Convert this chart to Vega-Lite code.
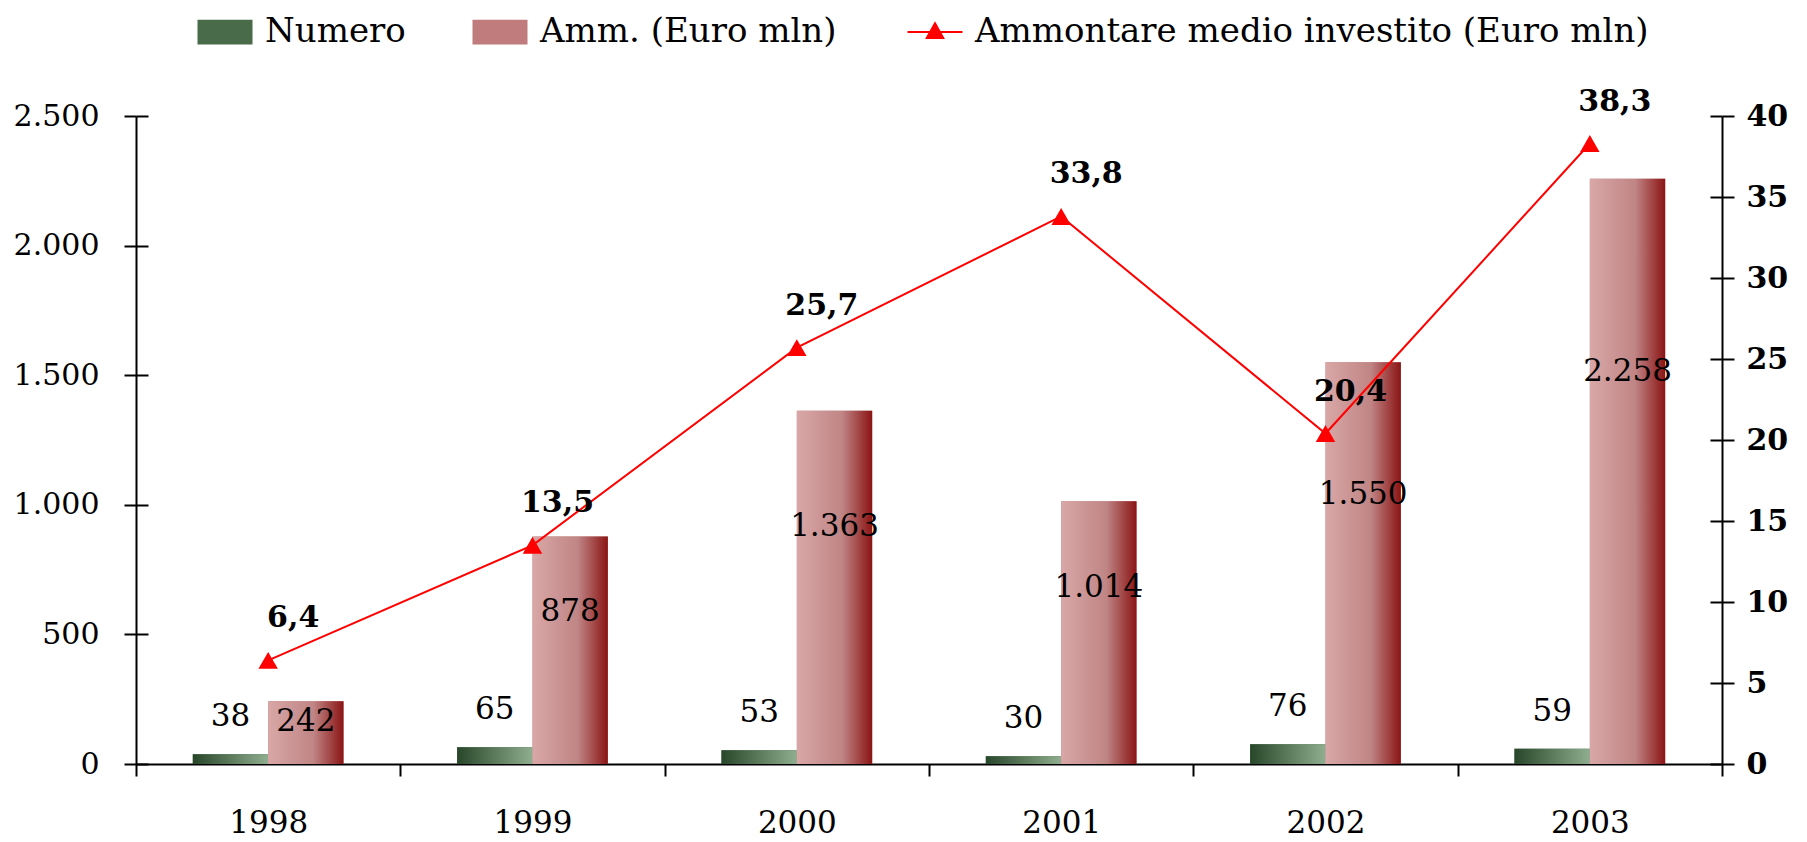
{
  "$schema": "https://vega.github.io/schema/vega-lite/v6.json",
  "width": 1586,
  "height": 648,
  "autosize": {"type": "none"},
  "padding": {"left": 136, "top": 116, "right": 85, "bottom": 78},
  "background": "white",
  "config": {
    "view": {"stroke": null},
    "locale": {"number": {"decimal": ",", "thousands": ".", "grouping": [3], "currency": ["€", ""]}},
    "axis": {
      "domainColor": "black", "domainWidth": 2, "tickColor": "black", "tickWidth": 2, "tickSize": 12,
      "labelColor": "black", "labelFont": "DejaVu Serif", "labelFontSize": 30, "grid": false
    }
  },
  "data": {
    "values": [
      {"anno": "1998", "Numero": 38, "Amm": 242, "medio": 6.4},
      {"anno": "1999", "Numero": 65, "Amm": 878, "medio": 13.5},
      {"anno": "2000", "Numero": 53, "Amm": 1363, "medio": 25.7},
      {"anno": "2001", "Numero": 30, "Amm": 1014, "medio": 33.8},
      {"anno": "2002", "Numero": 76, "Amm": 1550, "medio": 20.4},
      {"anno": "2003", "Numero": 59, "Amm": 2258, "medio": 38.3}
    ]
  },
  "layer": [
    {
      "transform": [{"fold": ["Numero", "Amm"], "as": ["serie", "valore"]}],
      "layer": [
        {
          "mark": {"type": "bar"},
          "encoding": {
            "x": {"field": "anno", "type": "ordinal", "title": null,
                  "scale": {"paddingInner": 0, "paddingOuter": 0},
                  "axis": {"labelAngle": 0, "tickBand": "extent", "labelPadding": 32, "labelFontSize": 31}},
            "xOffset": {"field": "serie", "type": "nominal",
                        "scale": {"domain": ["Numero", "Amm"], "paddingOuter": 0.754, "paddingInner": 0}},
            "y": {"field": "valore", "type": "quantitative", "title": null,
                  "scale": {"domain": [0, 2500], "nice": false},
                  "axis": {"values": [0, 500, 1000, 1500, 2000, 2500], "format": ",d", "labelPadding": 25}},
            "color": {
              "field": "serie", "type": "nominal",
              "scale": {"domain": ["Numero", "Amm", "Medio"], "range": ["#4a6b4a", "#c07c7c", "#ff0000"]},
              "legend": {
                "orient": "none", "legendX": 72, "legendY": -101, "direction": "horizontal", "columns": 3,
                "title": null, "symbolSize": 3025, "labelFont": "DejaVu Serif", "labelFontSize": 34,
                "labelColor": "black", "labelLimit": 900, "labelOffset": 23, "columnPadding": 66,
                "labelExpr": "datum.label === 'Numero' ? 'Numero' : datum.label === 'Amm' ? 'Amm. (Euro mln)' : 'Ammontare medio investito (Euro mln)'",
                "encode": {
                  "symbols": {
                    "update": {
                      "shape": {"signal": "datum.value === 'Medio' ? 'M-1,0H1M0,-0.32L0.3,0.22L-0.3,0.22Z' : 'M-1,-0.45H1V0.45H-1Z'"},
                      "stroke": {"value": "#ff0000"},
                      "strokeWidth": {"signal": "datum.value === 'Medio' ? 2 : 0"},
                      "opacity": {"value": 1}
                    }
                  }
                }
              }
            }
          }
        },
        {
          "transform": [{"filter": "datum.serie === 'Numero'"}],
          "mark": {"type": "bar", "color": {"gradient": "linear", "x1": 0, "y1": 0, "x2": 1, "y2": 0,
                   "stops": [{"offset": 0, "color": "#28472a"}, {"offset": 1, "color": "#8fae8f"}]}},
          "encoding": {
            "x": {"field": "anno", "type": "ordinal"},
            "xOffset": {"field": "serie", "type": "nominal"},
            "y": {"field": "valore", "type": "quantitative"}
          }
        },
        {
          "transform": [{"filter": "datum.serie === 'Amm'"}],
          "mark": {"type": "bar", "color": {"gradient": "linear", "x1": 0, "y1": 0, "x2": 1, "y2": 0,
                   "stops": [{"offset": 0, "color": "#d9a7a7"}, {"offset": 0.6, "color": "#c08585"}, {"offset": 1, "color": "#8b1414"}]}},
          "encoding": {
            "x": {"field": "anno", "type": "ordinal"},
            "xOffset": {"field": "serie", "type": "nominal"},
            "y": {"field": "valore", "type": "quantitative"}
          }
        },
        {
          "transform": [{"filter": "datum.serie === 'Numero'"}],
          "mark": {"type": "text", "font": "DejaVu Serif", "fontSize": 31, "color": "black", "baseline": "middle", "dy": -37},
          "encoding": {
            "x": {"field": "anno", "type": "ordinal"},
            "xOffset": {"field": "serie", "type": "nominal"},
            "y": {"field": "valore", "type": "quantitative"},
            "text": {"field": "valore", "type": "quantitative", "format": ",d"}
          }
        }
      ]
    },
    {
      "transform": [{"fold": ["Numero", "Amm"], "as": ["serie", "valore"]}, {"filter": "datum.serie === 'Amm'"}],
      "mark": {"type": "text", "font": "DejaVu Serif", "fontSize": 31, "color": "black", "baseline": "middle"},
      "encoding": {
        "x": {"field": "anno", "type": "ordinal"},
        "xOffset": {"field": "serie", "type": "nominal"},
        "y": {"field": "valore", "type": "quantitative", "scale": {"domain": [0, 3731], "nice": false},
              "axis": {"orient": "left", "values": [0, 746.2, 1492.4, 2238.6, 2984.8, 3731], "labels": false, "domain": true, "domainOpacity": 0, "ticks": true, "tickColor": "black", "tickSize": 12, "offset": -12, "title": null}},
        "text": {"field": "valore", "type": "quantitative", "format": ",d"}
      }
    },
    {
      "layer": [
        {
          "mark": {"type": "line", "color": "#ff0000", "strokeWidth": 2},
          "encoding": {
            "x": {"field": "anno", "type": "ordinal"},
            "y": {"field": "medio", "type": "quantitative", "title": null,
                  "scale": {"domain": [0, 40], "nice": false},
                  "axis": {"orient": "right", "values": [0, 5, 10, 15, 20, 25, 30, 35, 40], "labelFontWeight": "bold", "labelPadding": 12}}
          }
        },
        {
          "layer": [
            {
              "mark": {"type": "point", "shape": "triangle-up", "filled": true, "size": 380, "color": "#ff0000", "opacity": 1},
              "encoding": {
                "x": {"field": "anno", "type": "ordinal"},
                "y": {"field": "medio", "type": "quantitative", "title": null,
                      "scale": {"domain": [0, 40], "nice": false},
                      "axis": {"orient": "right", "values": [0, 5, 10, 15, 20, 25, 30, 35, 40], "labels": false, "domain": true, "domainOpacity": 0, "ticks": true, "tickColor": "black", "tickSize": 12, "offset": -12}}
              }
            },
            {
              "mark": {"type": "text", "font": "DejaVu Serif", "fontSize": 30, "fontWeight": "bold", "color": "black", "baseline": "middle", "dx": 25, "dy": -42},
              "encoding": {
                "x": {"field": "anno", "type": "ordinal"},
                "y": {"field": "medio", "type": "quantitative"},
                "text": {"field": "medio", "type": "quantitative", "format": ".1f"}
              }
            }
          ]
        }
      ],
      "resolve": {"scale": {"y": "independent"}}
    }
  ],
  "resolve": {"scale": {"y": "independent"}}
}
